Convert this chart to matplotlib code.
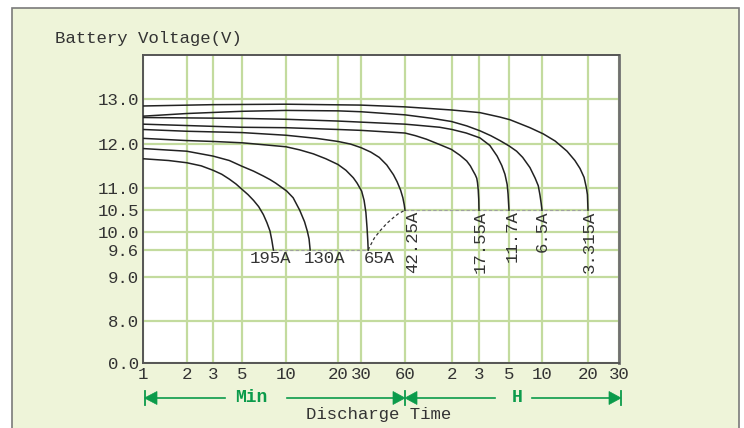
import numpy as np
import matplotlib
matplotlib.use("Agg")
from matplotlib import pyplot as plt
from matplotlib.patches import Rectangle, Polygon

# time ticks in minutes (1 min ... 30 H)
x_ticks = [1, 2, 3, 5, 10, 20, 30, 60, 120, 180, 300, 600, 1200, 1800]
x_tick_labels = ['1', '2', '3', '5', '10', '20', '30', '60',
                 '2', '3', '5', '10', '20', '30']
y_ticks = [0, 8, 9, 9.6, 10, 10.5, 11, 12, 13]
y_tick_labels = ['0.0', '8.0', '9.0', '9.6', '10.0', '10.5', '11.0', '12.0', '13.0']

# discharge curves, time in minutes, voltage in V
t_195 = [1, 1.5, 2, 2.5, 3, 3.5, 4, 4.5, 5, 5.5, 6, 6.5, 7, 7.4, 7.77, 8.0, 8.2]
v_195 = [11.66, 11.62, 11.57, 11.50, 11.40, 11.31, 11.20, 11.09, 10.97, 10.85, 10.72, 10.58,
         10.40, 10.22, 10.03, 9.82, 9.6]
t_130 = [1, 2, 3, 4, 5, 6, 7, 7.77, 8.5, 9.1, 10.1, 11, 12, 12.8, 13.3, 13.6, 13.8]
v_130 = [11.89, 11.83, 11.72, 11.62, 11.49, 11.38, 11.27, 11.19, 11.11, 11.04, 10.93, 10.78,
         10.50, 10.24, 10.02, 9.85, 9.6]
t_65 = [1, 2, 3, 5, 10, 12, 14.4, 17, 20, 23, 26.2, 28, 30.3, 31.5, 32.4, 33, 33.4, 33.6]
v_65 = [12.12, 12.07, 12.05, 12.02, 11.93, 11.86, 11.77, 11.66, 11.53, 11.40, 11.23, 11.11,
        10.93, 10.72, 10.45, 10.10, 9.80, 9.6]
t_42 = [1, 2, 5, 10, 15, 20, 25, 30, 35, 40, 45, 50, 53, 56, 58, 59.3, 60]
v_42 = [12.32, 12.28, 12.25, 12.19, 12.12, 12.05, 11.99, 11.91, 11.81, 11.69, 11.52, 11.30,
        11.14, 10.95, 10.78, 10.62, 10.5]
t_17 = [1, 5, 10, 20, 30, 60, 70, 82.4, 100, 119, 135, 149.6, 158, 165, 170, 174, 176, 178,
        179.3, 180]
v_17 = [12.44, 12.37, 12.36, 12.32, 12.30, 12.24, 12.18, 12.10, 11.98, 11.87, 11.74, 11.61,
        11.50, 11.38, 11.30, 11.22, 11.12, 10.95, 10.75, 10.5]
t_11 = [1, 5, 10, 20, 60, 75, 100, 120, 148.6, 183, 216.5, 245, 265, 280, 290.7, 295.3, 300]
v_11 = [12.59, 12.57, 12.55, 12.51, 12.44, 12.41, 12.37, 12.32, 12.24, 12.13, 11.96, 11.72,
        11.51, 11.31, 11.08, 10.86, 10.5]
t_6 = [1, 2, 5, 10, 20, 30, 60, 90, 119, 150, 183, 220, 257, 300, 352, 400, 466, 520, 555,
       575, 590, 600]
v_6 = [12.62, 12.68, 12.73, 12.75, 12.74, 12.72, 12.65, 12.57, 12.50, 12.40, 12.29, 12.18,
       12.07, 11.95, 11.83, 11.69, 11.46, 11.22, 11.05, 10.84, 10.65, 10.5]
t_3 = [1, 3, 10, 30, 60, 119, 183, 257, 306, 378, 466, 612, 731, 875, 985, 1064, 1131, 1170,
       1190, 1200]
v_3 = [12.85, 12.88, 12.89, 12.87, 12.83, 12.76, 12.70, 12.60, 12.54, 12.45, 12.36, 12.22,
       12.06, 11.83, 11.62, 11.44, 11.24, 11.01, 10.85, 10.5]

curves = [(t_195, v_195), (t_130, v_130), (t_65, v_65), (t_42, v_42),
          (t_17, v_17), (t_11, v_11), (t_6, v_6), (t_3, v_3)]

# end-voltage joins
t_join = [33.6, 34.6, 37, 40.4, 45, 49.9, 54, 58.4, 60]
v_join = [9.6, 9.69, 9.87, 10.03, 10.2, 10.33, 10.42, 10.48, 10.5]

# current labels
low_labels = ['195A', '130A', '65A']
low_label_t = [7.84, 16.6, 39.8]
high_labels = ['42.25A', '17.55A', '11.7A', '6.5A', '3.315A']
high_label_t = [67.5, 185, 319, 606, 1216]

# chart's own non-uniform scales
x_rel = [0, 43.7, 70, 99, 143, 195, 218, 262, 309, 336, 366, 399, 445, 476]
lx = np.log10(x_ticks)


def fwd_x(x):
    x = np.clip(np.asarray(x, dtype=float), 1e-6, None)
    return np.interp(np.log10(x), lx, x_rel)


def inv_x(p):
    return 10 ** np.interp(p, x_rel, lx)


def fwd_y(y):
    return np.interp(y, [0, 8, 14], [0, 42, 308])


def inv_y(p):
    return np.interp(p, [0, 42, 308], [0, 8, 14])


mono = 'Liberation Mono'
txt = '#333333'
grid_c = '#C3DB9E'
green = '#0B9B4B'

fig = plt.figure(figsize=(7.44, 4.28), dpi=100)
fig.patch.set_facecolor('white')
fig.patches.append(Rectangle((12 / 744, -0.05), 727 / 744, 1 - 7.5 / 428 + 0.05,
                             transform=fig.transFigure, facecolor='#EEF4D9',
                             edgecolor='#7A7A7A', lw=1.2, zorder=-10))

ax = fig.add_axes([143 / 744, 1 - 363 / 428, 476 / 744, 308 / 428])
ax.set_facecolor('white')
ax.set_xscale('function', functions=(fwd_x, inv_x))
ax.set_yscale('function', functions=(fwd_y, inv_y))
ax.set_xlim(1, 1800)
ax.set_ylim(0, 14)
ax.set_xticks(x_ticks)
ax.set_xticklabels(x_tick_labels)
ax.set_yticks(y_ticks)
ax.set_yticklabels(y_tick_labels)
ax.minorticks_off()
ax.tick_params(length=0, labelsize=12.5, labelcolor=txt, pad=3)
for lab in ax.get_xticklabels() + ax.get_yticklabels():
    lab.set_family(mono)
ax.grid(True, color=grid_c, lw=1.6, zorder=0)
for s in ax.spines.values():
    s.set_color('#555555')
    s.set_linewidth(1.4)
ax.spines['right'].set_color('#707070')
ax.spines['right'].set_linewidth(2)

for t, v in curves:
    ax.plot(t, v, color='#222222', lw=1.1, zorder=3, solid_joinstyle='round')

ax.plot([t_195[-1], t_65[-1]], [9.6, 9.6], color='#A0A0A0', lw=0.8, ls=(0, (3, 2)), zorder=2)
ax.plot([t_42[-1], t_3[-1]], [10.5, 10.5], color='#A0A0A0', lw=0.8, ls=(0, (3, 2)), zorder=2)
ax.plot(t_join, v_join, color='#333333', lw=0.9, ls=(0, (2.5, 2)), zorder=3)

for lab, t in zip(low_labels, low_label_t):
    ax.text(t, 9.41, lab, ha='center', va='center', fontsize=12.5, family=mono, color=txt)
for lab, t in zip(high_labels, high_label_t):
    ax.text(t, 10.49, lab, ha='center', va='top', rotation=90, fontsize=12.5,
            family=mono, color=txt)

# overlay in pixel coordinates for titles and the Min / H arrows
ov = fig.add_axes([0, 0, 1, 1], facecolor='none')
ov.set_xlim(0, 744)
ov.set_ylim(428, 0)
ov.axis('off')
ov.text(55, 38, 'Battery Voltage(V)', ha='left', va='center', fontsize=12.5, family=mono, color=txt)
ov.text(379, 415, 'Discharge Time', ha='center', va='center', fontsize=12.5, family=mono, color=txt)

ay = 398
ov.plot([156, 225], [ay, ay], color=green, lw=1.2)
ov.plot([287, 395], [ay, ay], color=green, lw=1.2)
ov.plot([416, 495], [ay, ay], color=green, lw=1.2)
ov.plot([532, 611], [ay, ay], color=green, lw=1.2)
for xb in [144.5, 405, 621]:
    ov.plot([xb, xb], [ay - 7, ay + 7], color=green, lw=1.3)
for tip, base in [(144.5, 157), (405, 393), (405, 417), (621, 609)]:
    ov.add_patch(Polygon([[tip, ay], [base, ay - 6.5], [base, ay + 6.5]], closed=True,
                         facecolor=green, edgecolor=green, lw=0.5))
ov.text(251, ay - 1, 'Min', ha='center', va='center', fontsize=13, family=mono,
        fontweight='bold', color=green)
ov.text(517, ay - 1, 'H', ha='center', va='center', fontsize=13, family=mono,
        fontweight='bold', color=green)

fig.savefig('out.png', dpi=100, facecolor=fig.get_facecolor())
